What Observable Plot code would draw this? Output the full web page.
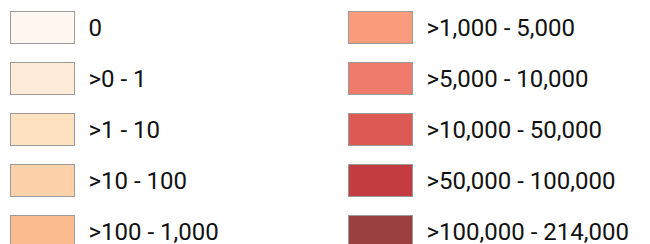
<!DOCTYPE html>
<html>
<head>
<meta charset="utf-8">
<script src="https://cdn.jsdelivr.net/npm/d3@7"></script>
<script src="https://cdn.jsdelivr.net/npm/@observablehq/plot@0.6"></script>
<style>
  html, body { margin: 0; padding: 0; background: #fff; overflow: hidden; }
  #chart { width: 650px; height: 244px; overflow: hidden; }
</style>
</head>
<body>
<div id="chart"></div>
<script>
const labels = ["0", ">0 - 1", ">1 - 10", ">10 - 100", ">100 - 1,000",
  ">1,000 - 5,000", ">5,000 - 10,000", ">10,000 - 50,000", ">50,000 - 100,000", ">100,000 - 214,000"];
const colors = ["#fff7f0", "#feecd8", "#fee1c0", "#fdd1a9", "#fcba8f",
  "#f99c7e", "#ee7a6c", "#dd5a54", "#c43c42", "#9b3f41"];
const perColumn = 5;

const data = labels.map((label, i) => ({label, col: Math.floor(i / perColumn), row: i % perColumn}));

const plot = Plot.plot({
  width: 650,
  height: 244,
  margin: 0,
  style: {background: "white", overflow: "hidden"},
  x: {type: "band", domain: [0, 1], range: [10, 686], padding: 0, axis: null},
  y: {type: "band", domain: [0, 1, 2, 3, 4], range: [2, 257], padding: 0, axis: null},
  color: {type: "ordinal", domain: labels, range: colors},
  marks: [
    Plot.cell(data, {x: "col", y: "row", fill: "label", stroke: "#9a9a9a", strokeWidth: 1,
      insetLeft: 0.5, insetRight: 273.5, insetTop: 9.5, insetBottom: 9.5}),
    Plot.text(data, {x: "col", y: "row", text: "label", textAnchor: "start", dx: -91,
      fontSize: 24, fontFamily: "Roboto", fill: "#111", lineAnchor: "middle"})
  ]
});
document.getElementById("chart").appendChild(plot);
</script>
</body>
</html>
